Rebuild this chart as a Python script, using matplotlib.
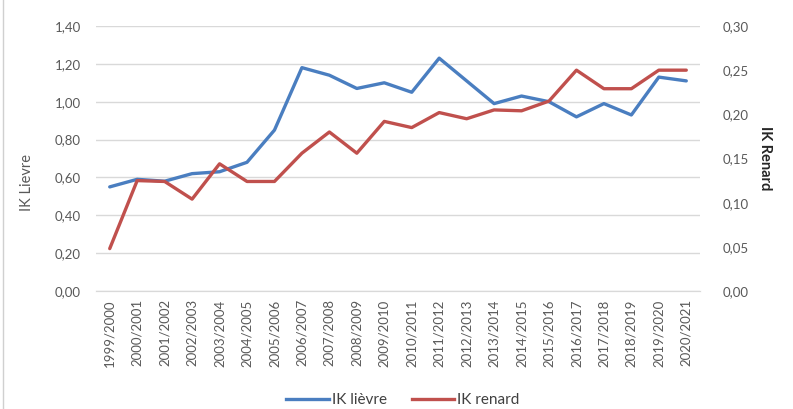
import matplotlib
matplotlib.use("Agg")
import matplotlib.pyplot as plt
from matplotlib.lines import Line2D

seasons = ["1999/2000", "2000/2001", "2001/2002", "2002/2003", "2003/2004",
           "2004/2005", "2005/2006", "2006/2007", "2007/2008", "2008/2009",
           "2009/2010", "2010/2011", "2011/2012", "2012/2013", "2013/2014",
           "2014/2015", "2015/2016", "2016/2017", "2017/2018", "2018/2019",
           "2019/2020", "2020/2021"]
ik_lievre = [0.55, 0.59, 0.58, 0.62, 0.63, 0.68, 0.85, 1.18, 1.14, 1.07,
             1.10, 1.05, 1.23, 1.11, 0.99, 1.03, 1.00, 0.92, 0.99, 0.93,
             1.13, 1.11]
ik_renard = [0.048, 0.125, 0.124, 0.104, 0.144, 0.124, 0.124, 0.156, 0.180, 0.156,
             0.192, 0.185, 0.202, 0.195, 0.205, 0.204, 0.215, 0.250, 0.229, 0.229,
             0.250, 0.250]
left_ticks = [0.0, 0.2, 0.4, 0.6, 0.8, 1.0, 1.2, 1.4]
right_ticks = [0.0, 0.05, 0.10, 0.15, 0.20, 0.25, 0.30]

plt.rcParams['font.family'] = ['Lato', 'DejaVu Sans']
W, H = 793, 409
fig = plt.figure(figsize=(W / 100, H / 100), dpi=100)
ax = fig.add_axes([96 / W, (H - 291) / H, (700 - 96) / W, (291 - 26) / H])
ax2 = ax.twinx()

blue = '#4A7EC0'
red = '#C0504D'
grid_c = '#D9D9D9'
txt_c = '#595959'

x = list(range(len(seasons)))
ax.plot(x, ik_lievre, color=blue, lw=2.4, solid_capstyle='round', zorder=3)
ax2.plot(x, ik_renard, color=red, lw=2.4, solid_capstyle='round', zorder=3)

ax.set_xlim(-0.5, len(seasons) - 0.5)
ax.set_ylim(0, 1.4)
ax2.set_ylim(0, 0.30)
ax.set_yticks(left_ticks)
ax.set_yticklabels([f"{v:.2f}".replace('.', ',') for v in left_ticks])
ax2.set_yticks(right_ticks)
ax2.set_yticklabels([f"{v:.2f}".replace('.', ',') for v in right_ticks])
ax.set_xticks(x)
ax.set_xticklabels(seasons, rotation=90)

ax.grid(axis='y', color=grid_c, lw=1)
ax.set_axisbelow(True)
for a in (ax, ax2):
    for s in ('top', 'right', 'left'):
        a.spines[s].set_visible(False)
    a.spines['bottom'].set_color(grid_c)
    a.tick_params(length=0, colors=txt_c, labelsize=9.5)
ax.tick_params(axis='y', pad=11)
ax2.tick_params(axis='y', pad=16)
ax.tick_params(axis='x', pad=6)

ax.set_ylabel("IK Lievre", color=txt_c, fontsize=10.5, va='center')
ax.yaxis.set_label_coords(-0.114, 0.41)
ax2.set_ylabel("IK Renard", color='#262626', fontsize=10.5, rotation=270,
               fontweight='bold', va='center')
ax2.yaxis.set_label_coords(1.107, 0.5)

handles = [Line2D([], [], color=blue, lw=2.4), Line2D([], [], color=red, lw=2.4)]
fig.legend(handles, ["IK lièvre", "IK renard"], loc='center',
           bbox_to_anchor=(403 / W, (H - 400) / H), ncol=2, frameon=False,
           fontsize=11, handlelength=2.8, handletextpad=0.2, columnspacing=1.6,
           labelcolor='#404040')

fig.add_artist(Line2D([3 / W, 3 / W], [0, 1], color='#D0D0D0', lw=1,
                      transform=fig.transFigure))

fig.savefig("out.png", dpi=100)
